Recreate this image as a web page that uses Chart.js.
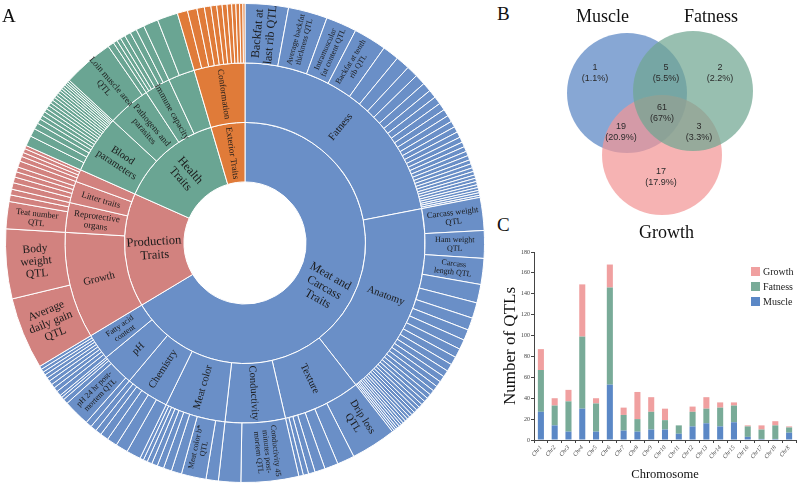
<!DOCTYPE html>
<html lang="en">
<head>
<meta charset="UTF-8">
<title>QTL overview</title>
<style>
    body { margin: 0; width: 798px; height: 486px; position: relative; background: #fff; overflow: hidden; }
    canvas { position: absolute; }
    .t { position: absolute; font-family: 'Liberation Serif', serif; color: #111; line-height: 1; white-space: nowrap; }
</style>
</head>
<body>

<canvas id="sun" width="490" height="486" style="left:0;top:0"></canvas>
<canvas id="venn" width="258" height="245" style="left:540px;top:0"></canvas>
<canvas id="bars" width="298" height="241" style="left:500px;top:245px"></canvas>

<div class="t" style="left:2px;top:6px;font-size:19px">A</div>
<div class="t" style="left:497px;top:4px;font-size:19px">B</div>
<div class="t" style="left:497px;top:215px;font-size:19px">C</div>
<div class="t" style="left:576px;top:7px;font-size:18px">Muscle</div>
<div class="t" style="left:684px;top:7px;font-size:18px">Fatness</div>
<div class="t" style="left:639px;top:223px;font-size:18px">Growth</div>

<script src="https://cdn.jsdelivr.net/npm/chart.js"></script>
<script>
    Chart.defaults.font.family = "'Liberation Serif', serif"
    Chart.defaults.animation = false

    // ---- A: sunburst ----
    const topLabels = ['Meat and\nCarcass\nTraits', 'Production\nTraits', 'Health\nTraits', 'Exterior Traits']
    const topValues = [239, 55, 49.6, 16.4]

    const midLabels = ['Fatness', 'Anatomy', 'Texture', 'Conductivity', 'Meat color', 'Chemistry', 'pH', 'Fatty acid\ncontent',
        'Growth', 'Reprotective\norgans', 'Litter traits', '',
        'Blood\nparameters', 'Pathogens and\nparasites', 'Immune capacity', '',
        'Conformation']
    const midValues = [79, 63, 25, 19.4, 19.6, 14, 10.5, 8.5, 34.4, 9.6, 7, 4, 18.8, 13.9, 8.3, 8.6, 16.4]
    const midGroup = [0, 0, 0, 0, 0, 0, 0, 0, 1, 1, 1, 1, 2, 2, 2, 2, 3]

    // outer ring, one list per middle category
    const outerSlices = [
        [10.5, 9.5, 7.5, 8, 4.0, 3.4, 2.8, 2.6, 2.2, 2.0, 1.9, 1.8, 1.7, 1.6, 1.5, 1.4, 1.4, 1.3, 1.2, 1.2, 1.1, 1.1, 1.0, 1.0, 0.9, 0.9, 0.8, 0.8, 0.8, 0.7, 0.7, 0.6, 0.6, 0.5],
        [8, 6.7, 6.3, 4.5, 3.8, 3, 2.6, 2.4, 2.2, 2, 1.8, 1.6, 1.5, 1.4, 1.3, 1.2, 1.1, 1.0, 1.0, 0.9, 0.9, 0.8, 0.8, 0.8, 0.7, 0.7, 0.7, 0.6, 0.6, 0.6, 0.5, 0.5, 0.5],
        [11, 4.2, 3.3, 2.5, 1.6, 1.3, 1.1],
        [14, 5.4],
        [3, 6, 2.5, 2, 1.6, 1.4, 1.2, 1, 0.9],
        [3.5, 3, 2.5, 2, 1.5, 1.5],
        [1.5, 6.5, 1.2, 0.7, 0.6],
        [1.2, 1.1, 1.0, 1.0, 0.9, 0.9, 0.8, 0.8, 0.8],
        [17.5, 16.9],
        [6.6, 1.6, 1.4],
        [1.6, 1.4, 1.3, 1.2, 1.5],
        [1.2, 1.0, 1.0, 0.8],
        [2.5, 2.0, 1.5, 1.2, 1.0, 1.0, 0.9, 0.9, 0.8, 0.8, 0.8, 0.7, 0.7, 0.7, 0.6, 0.6, 0.6, 0.5, 0.5, 0.5],
        [12.4, 1.5],
        [1.0, 1.0, 1.2, 1.5, 1.6, 2.0],
        [3.6, 5.0],
        [2.5, 2.3, 1.8, 1.6, 1.4, 1.3, 1.2, 1.1, 1.0, 0.9, 0.8, 0.5]
    ]
    // [middle category, slice, name]
    const outerNames = [
        [0, 0, 'Backfat at\nlast rib QTL'],
        [0, 1, 'Average backfat\nthickness QTL'],
        [0, 2, 'Intramuscular\nfat content QTL'],
        [0, 3, 'Backfat at tenth\nrib QTL'],
        [1, 0, 'Carcass weight\nQTL'],
        [1, 1, 'Ham weight\nQTL'],
        [1, 2, 'Carcass\nlength QTL'],
        [2, 0, 'Drip loss\nQTL'],
        [3, 0, 'Conductivity 45\nminutes post-\nmortem QTL'],
        [4, 1, 'Meat color b*\nQTL'],
        [6, 1, 'pH 24 hr post-\nmortem QTL'],
        [8, 0, 'Average\ndaily gain\nQTL'],
        [8, 1, 'Body\nweight\nQTL'],
        [9, 0, 'Teat number\nQTL'],
        [13, 0, 'Loin muscle area\nQTL']
    ]

    const groupColors = ['#6a8fc7', '#d2827f', '#6aa593', '#e07b39']
    const labelSize = {
        'Backfat at\nlast rib QTL': 12, 'Average\ndaily gain\nQTL': 11.5, 'Body\nweight\nQTL': 11.5,
        'Drip loss\nQTL': 10.5, 'Carcass weight\nQTL': 8.5, 'Teat number\nQTL': 8.5, 'Loin muscle area\nQTL': 9,
        'Production\nTraits': 12.5, 'Meat and\nCarcass\nTraits': 12, 'Health\nTraits': 12, 'Exterior Traits': 9,
        'Fatty acid\ncontent': 8, 'Reprotective\norgans': 9, 'Litter traits': 9, 'Pathogens and\nparasites': 9,
        'Immune capacity': 9, 'Conformation': 9, 'Fatness': 10.5, 'Anatomy': 10.5, 'Texture': 10.5,
        'Conductivity': 10.5, 'Meat color': 10.5, 'Chemistry': 10.5, 'pH': 10.5, 'Growth': 10.5, 'Blood\nparameters': 10.5
    }

    const outerValues = [], outerColors = [], outerText = []
    outerSlices.forEach((list, m) => {
        list.forEach((v, k) => {
            outerValues.push(v)
            outerColors.push(groupColors[midGroup[m]])
            const hit = outerNames.find(n => n[0] === m && n[1] === k)
            outerText.push(hit ? hit[2] : '')
        })
    })

    const ringLabels = {
        id: 'ringLabels',
        afterDatasetsDraw(chart) {
            const ctx = chart.ctx
            chart.data.datasets.forEach((ds, di) => {
                const meta = chart.getDatasetMeta(di)
                const base = di === 0 ? 8 : 10
                meta.data.forEach((arc, i) => {
                    const txt = ds.names[i]
                    if (!txt) return
                    const mid = (arc.startAngle + arc.endAngle) / 2
                    const r = (arc.innerRadius + arc.outerRadius) / 2
                    let rot = mid
                    if (Math.cos(mid) < -0.001) rot += Math.PI
                    const size = labelSize[txt] || base
                    const lines = txt.split('\n')
                    const lh = size * 1.08
                    ctx.save()
                    ctx.translate(arc.x + Math.cos(mid) * r, arc.y + Math.sin(mid) * r)
                    ctx.rotate(rot)
                    ctx.font = size + "px 'Liberation Serif', serif"
                    ctx.fillStyle = '#1a1a1a'
                    ctx.textAlign = 'center'
                    ctx.textBaseline = 'middle'
                    lines.forEach((ln, j) => ctx.fillText(ln, 0, (j - (lines.length - 1) / 2) * lh))
                    ctx.restore()
                })
            })
        }
    }

    new Chart(document.getElementById('sun'), {
        type: 'doughnut',
        data: {
            datasets: [
                { data: outerValues, backgroundColor: outerColors, names: outerText },
                { data: midValues, backgroundColor: midGroup.map(g => groupColors[g]), names: midLabels },
                { data: topValues, backgroundColor: groupColors, names: topLabels }
            ]
        },
        options: {
            responsive: false,
            cutout: '25.5%',
            layout: { padding: 3 },
            elements: { arc: { borderWidth: 1, borderColor: '#fff' } },
            plugins: { legend: { display: false }, tooltip: { enabled: false } },
            events: []
        },
        plugins: [ringLabels]
    })

    // ---- B: Venn ----
    const vennSets = ['Muscle', 'Fatness', 'Growth']
    const vennX = [627, 693, 662]
    const vennY = [93, 91, 155]
    const vennR = [60, 60, 60]
    const vennCounts = ['1', '5', '2', '61', '19', '3', '17']
    const vennShares = ['(1.1%)', '(5.5%)', '(2.2%)', '(67%)', '(20.9%)', '(3.3%)', '(17.9%)']
    const vennTextX = [595, 666, 720, 662, 621, 699, 661]
    const vennTextY = [68, 68, 68, 108, 127, 127, 172]

    const vennFill = ['rgba(78,126,192,0.68)', 'rgba(112,166,146,0.72)', 'rgba(242,150,150,0.72)']
    const vennOrder = [3, 1, 2]

    const vennText = {
        id: 'vennText',
        afterDatasetsDraw(chart) {
            const ctx = chart.ctx, sx = chart.scales.x, sy = chart.scales.y
            ctx.save()
            ctx.font = "9px 'Liberation Sans', sans-serif"
            ctx.fillStyle = '#2b2b2b'
            ctx.textAlign = 'center'
            ctx.textBaseline = 'middle'
            vennCounts.forEach((c, i) => {
                const x = sx.getPixelForValue(vennTextX[i]), y = sy.getPixelForValue(vennTextY[i])
                ctx.fillText(c, x, y)
                ctx.fillText(vennShares[i], x, y + 11)
            })
            ctx.restore()
        }
    }

    new Chart(document.getElementById('venn'), {
        type: 'bubble',
        data: {
            datasets: vennSets.map((s, i) => ({
                label: s,
                data: [{ x: vennX[i], y: vennY[i], r: vennR[i] }],
                backgroundColor: vennFill[i],
                borderWidth: 0,
                order: vennOrder[i],
                clip: false
            }))
        },
        options: {
            responsive: false,
            layout: { padding: 0, autoPadding: false },
            scales: {
                x: { type: 'linear', min: 540, max: 798, display: false },
                y: { type: 'linear', min: 0, max: 245, reverse: true, display: false }
            },
            plugins: { legend: { display: false }, tooltip: { enabled: false } },
            events: []
        },
        plugins: [vennText]
    })

    // ---- C: stacked bars ----
    const chromosomes = ['Chr1', 'Chr2', 'Chr3', 'Chr4', 'Chr5', 'Chr6', 'Chr7', 'Chr8', 'Chr9', 'Chr10',
        'Chr11', 'Chr12', 'Chr13', 'Chr14', 'Chr15', 'Chr16', 'Chr17', 'Chr18', 'ChrX']
    const muscle = [27, 14, 8, 30, 8, 53, 9, 8, 10, 10, 6, 13, 16, 13, 17, 3, 1, 1, 7]
    const fatness = [40, 19, 29, 69, 27, 93, 15, 12, 17, 9, 8, 14, 14, 18, 16, 10, 9, 13, 5]
    const growth = [20, 7, 11, 50, 5, 22, 7, 26, 14, 11, 0, 5, 11, 5, 3, 1, 4, 4, 1]
    const yTicks = [0, 20, 40, 60, 80, 100, 120, 140, 160, 180]

    const barColors = { Muscle: '#5b88c6', Fatness: '#79ab98', Growth: '#f0a0a0' }

    const sideLegend = {
        id: 'sideLegend',
        afterDraw(chart) {
            const ctx = chart.ctx
            const items = chart.data.datasets.slice().reverse()
            ctx.save()
            ctx.font = "10px 'Liberation Serif', serif"
            ctx.textBaseline = 'middle'
            items.forEach((ds, i) => {
                const y = 22 + i * 15
                ctx.fillStyle = ds.backgroundColor
                ctx.fillRect(251, y, 9, 9)
                ctx.fillStyle = '#222'
                ctx.fillText(ds.label, 263, y + 5)
            })
            ctx.restore()
        }
    }

    new Chart(document.getElementById('bars'), {
        type: 'bar',
        data: {
            labels: chromosomes,
            datasets: [
                { label: 'Muscle', data: muscle, backgroundColor: barColors.Muscle },
                { label: 'Fatness', data: fatness, backgroundColor: barColors.Fatness },
                { label: 'Growth', data: growth, backgroundColor: barColors.Growth }
            ]
        },
        options: {
            responsive: false,
            datasets: { bar: { barPercentage: 0.44, categoryPercentage: 1 } },
            layout: { padding: { top: 7, right: 2, left: 0, bottom: 0 } },
            plugins: { legend: { display: false }, tooltip: { enabled: false } },
            events: [],
            scales: {
                x: {
                    stacked: true,
                    grid: { drawOnChartArea: false, tickLength: 3, color: '#444' },
                    border: { color: '#444' },
                    ticks: { font: { size: 6, style: 'italic' }, color: '#444', minRotation: 50, maxRotation: 50, padding: 1, autoSkip: false },
                    title: { display: true, text: 'Chromosome', font: { size: 12.5 }, color: '#111', padding: { top: 0, bottom: 4 } },
                    afterFit(s) { s.height = 46 }
                },
                y: {
                    stacked: true, min: 0, max: 180,
                    afterBuildTicks(s) { s.ticks = yTicks.map(v => ({ value: v })) },
                    grid: { drawOnChartArea: false, tickLength: 3, color: '#444' },
                    border: { color: '#444' },
                    ticks: { font: { size: 6 }, color: '#444', padding: 1 },
                    title: { display: true, text: 'Number of QTLs', font: { size: 17 }, color: '#111', padding: { top: 0, bottom: 0 } },
                    afterFit(s) { s.width = 34 }
                }
            }
        },
        plugins: [sideLegend]
    })
</script>
</body>
</html>
